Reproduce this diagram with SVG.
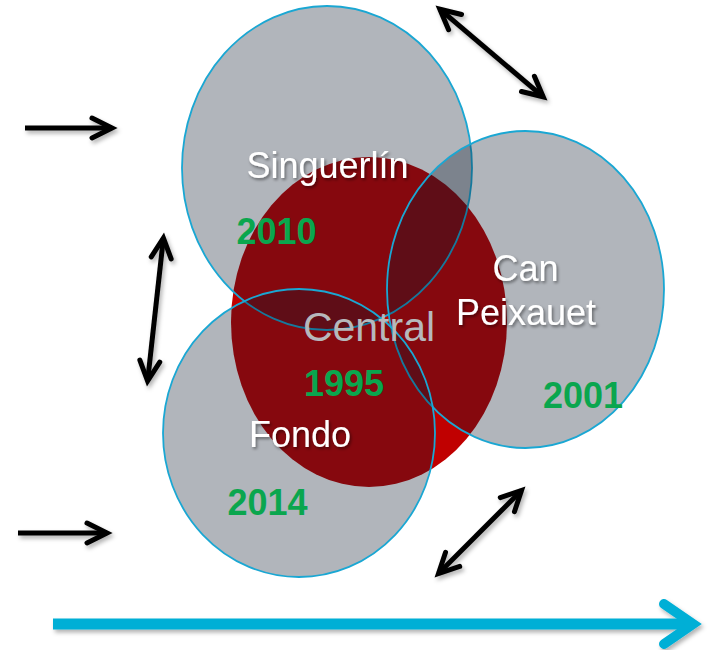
<svg xmlns="http://www.w3.org/2000/svg" width="717" height="650" viewBox="0 0 717 650">
  <defs>
    <style>
      .circ { fill: rgb(12,24,42); fill-opacity: 0.32; stroke: #1aa7d3; stroke-width: 1.8; }
      .lbl { font-family: "Liberation Sans", Arial, sans-serif; font-size: 36px; fill: #ffffff; text-anchor: middle; filter: url(#tshadow); }
      .yr { font-family: "Liberation Sans", Arial, sans-serif; font-size: 36px; font-weight: bold; fill: #0aa64e; text-anchor: middle; }
      .central { font-family: "Liberation Sans", Arial, sans-serif; font-size: 41px; fill: #b6b8bc; text-anchor: middle; }
      .blk { stroke: #000000; stroke-width: 5; fill: none; }
    </style>
    <filter id="tshadow" x="-20%" y="-30%" width="140%" height="160%">
      <feDropShadow dx="1.5" dy="2" stdDeviation="1.5" flood-color="#000000" flood-opacity="0.45"/>
    </filter>
    <filter id="ashadow" filterUnits="userSpaceOnUse" x="0" y="0" width="717" height="650">
      <feDropShadow dx="2" dy="3" stdDeviation="2" flood-color="#000000" flood-opacity="0.3"/>
    </filter>
    <marker id="ah" markerUnits="userSpaceOnUse" viewBox="-30 -20 40 40" markerWidth="40" markerHeight="40" refX="0" refY="0" orient="auto-start-reverse" overflow="visible">
      <path d="M-20,-10 L0,0 L-20,10" fill="none" stroke="#000000" stroke-width="5" stroke-linecap="round" stroke-linejoin="miter"/>
    </marker>
  </defs>

  <g id="node-central">
    <ellipse cx="369" cy="322" rx="138" ry="165" fill="#c00000"/>
  </g>
  <g id="node-singuerlin">
    <ellipse class="circ" cx="327" cy="168" rx="145" ry="162"/>
  </g>
  <g id="node-canpeixauet">
    <ellipse class="circ" cx="525.5" cy="289.5" rx="138.5" ry="158.5"/>
  </g>
  <g id="node-fondo">
    <ellipse class="circ" cx="299" cy="433" rx="136" ry="144"/>
  </g>

  <g id="labels">
    <text id="label-singuerlin" class="lbl" x="327.5" y="178">Singuerlín</text>
    <text id="year-singuerlin" class="yr" x="276.5" y="244">2010</text>
    <text id="label-can" class="lbl" x="525.5" y="281">Can</text>
    <text id="label-peixauet" class="lbl" x="526" y="325">Peixauet</text>
    <text id="year-can" class="yr" x="583" y="408">2001</text>
    <text id="label-central" class="central" x="369" y="341">Central</text>
    <text id="year-central" class="yr" x="344" y="396">1995</text>
    <text id="label-fondo" class="lbl" x="300" y="447">Fondo</text>
    <text id="year-fondo" class="yr" x="267.5" y="515">2014</text>
  </g>

  <g id="connectors" filter="url(#ashadow)">
    <line class="blk" x1="25" y1="128" x2="112" y2="128" marker-end="url(#ah)"/>
    <line class="blk" x1="18" y1="533" x2="107" y2="533" marker-end="url(#ah)"/>
    <line class="blk" x1="163.4" y1="238" x2="147.6" y2="381" marker-start="url(#ah)" marker-end="url(#ah)"/>
    <line class="blk" x1="439.8" y1="9.2" x2="543.2" y2="96.8" marker-start="url(#ah)" marker-end="url(#ah)"/>
    <line class="blk" x1="521.5" y1="490.5" x2="438.5" y2="573.5" marker-start="url(#ah)" marker-end="url(#ah)"/>
    <line x1="53" y1="624" x2="693" y2="624" stroke="#00afd6" stroke-width="11"/>
    <path d="M664,604 L693,624 L664,644" fill="none" stroke="#00afd6" stroke-width="10" stroke-linecap="round" stroke-linejoin="miter"/>
  </g>
</svg>
